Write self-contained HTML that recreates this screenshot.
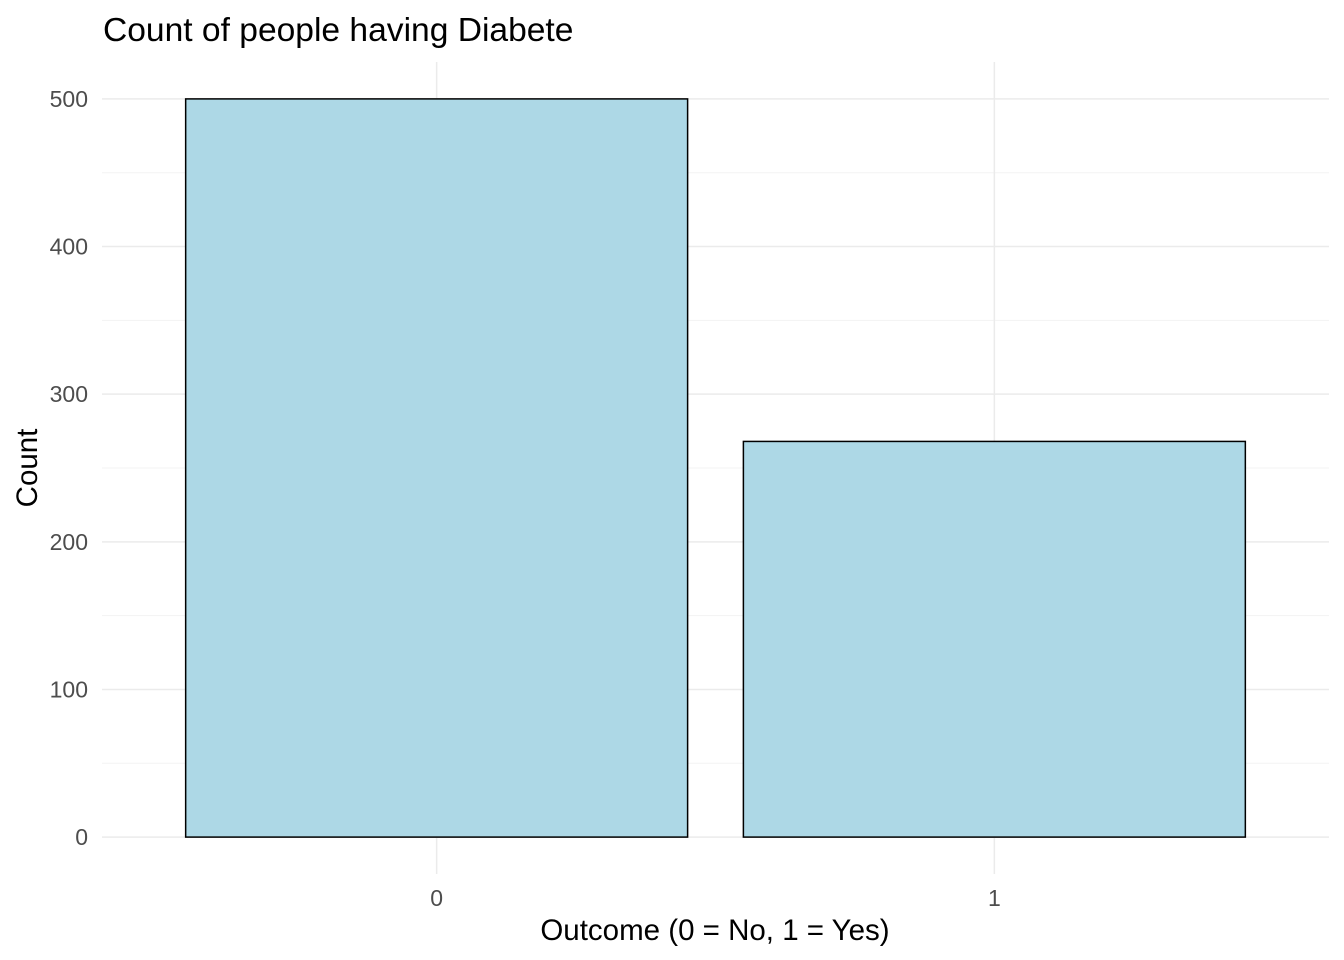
<!DOCTYPE html>
<html><head><meta charset="utf-8"><style>
body{margin:0;background:#fff;}
svg{display:block;font-family:"Liberation Sans",Arial,sans-serif;}
</style></head><body>
<svg id="chart" width="1344" height="960">
<text x="103" y="41" font-size="33.6" fill="#000">Count of people having Diabete</text>
<g id="grid"></g>
<g id="bars"></g>
<g id="ticks"></g>
<text x="715" y="940" font-size="29.5" text-anchor="middle" fill="#000">Outcome (0 = No, 1 = Yes)</text>
<text transform="translate(37,468) rotate(-90)" font-size="29.5" text-anchor="middle" fill="#000">Count</text>
</svg>
<script>
const categories = ["0", "1"];
const counts = [500, 268];
const yTicks = [0, 100, 200, 300, 400, 500];
const yMinor = [50, 150, 250, 350, 450];

const NS = "http://www.w3.org/2000/svg";
const panelL = 102, panelR = 1329, panelT = 62, panelB = 874;
const yMax = Math.max(...counts, yTicks[yTicks.length-1]);
const yLo = -0.05*yMax, yHi = yMax*1.05;
const y = v => panelB - (v - yLo) / (yHi - yLo) * (panelB - panelT);
const n = categories.length;
const step = (panelR - panelL) / (n - 1 + 1.2);
const x = i => panelL + step * (0.6 + i);
function mk(tag, attrs, parent){const e=document.createElementNS(NS,tag);for(const k in attrs)e.setAttribute(k,attrs[k]);parent.appendChild(e);return e;}
const grid = document.getElementById('grid'), bars = document.getElementById('bars'), ticks = document.getElementById('ticks');
yMinor.forEach(v=>{const l=mk('line',{x1:panelL,x2:panelR,y1:y(v),y2:y(v),stroke:'#f3f3f3','stroke-width':1},grid);

});
yTicks.forEach(v=>{const l=mk('line',{x1:panelL,x2:panelR,y1:y(v),y2:y(v),stroke:'#ebebeb','stroke-width':1.5},grid);


const t=mk('text',{x:88,y:y(v)+8,'font-size':23,'text-anchor':'end',fill:'#4d4d4d'},ticks);t.textContent=v;

});
categories.forEach((c,i)=>{const l=mk('line',{x1:x(i),x2:x(i),y1:panelT,y2:panelB,stroke:'#ebebeb','stroke-width':1.5},grid);


const w=step*0.9;
const r=mk('rect',{x:x(i)-w/2,y:y(counts[i]),width:w,height:y(0)-y(counts[i]),fill:'#add8e6',stroke:'#000','stroke-width':1.5},bars);


const t=mk('text',{x:x(i),y:906,'font-size':23,'text-anchor':'middle',fill:'#4d4d4d'},ticks);t.textContent=c;

});
</script>
</body></html>
